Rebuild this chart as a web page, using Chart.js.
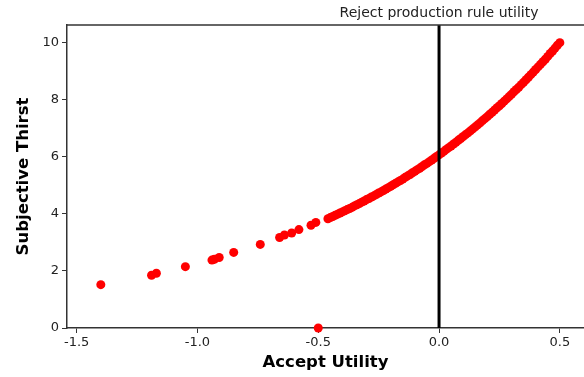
<!DOCTYPE html>
<html>
<head>
<meta charset="utf-8">
<script src="https://cdn.jsdelivr.net/npm/chart.js@4.4.1/dist/chart.umd.min.js"></script>
<style>
    html, body { margin: 0; padding: 0; background: #fff; }
    #wrap { width: 584px; height: 377px; }
</style>
</head>
<body>
<div id="wrap"><canvas id="chart" width="584" height="377"></canvas></div>
<script>
// Accept utility values (x)
const acceptUtility = [
    -1.40, -1.19, -1.17, -1.05, -0.94, -0.93, -0.91, -0.85, -0.74, -0.66, -0.64, -0.61, -0.58, -0.53, -0.51,
    -0.46, -0.45, -0.44, -0.43, -0.42, -0.41, -0.40, -0.39, -0.38, -0.37, -0.36, -0.35, -0.34, -0.33, -0.32,
    -0.31, -0.30, -0.29, -0.28, -0.27, -0.26, -0.25, -0.24, -0.23, -0.22, -0.21, -0.20, -0.19, -0.18, -0.17,
    -0.16, -0.15, -0.14, -0.13, -0.12, -0.11, -0.10, -0.09, -0.08, -0.07, -0.06, -0.05, -0.04, -0.03, -0.02,
    -0.01, 0.00, 0.01, 0.02, 0.03, 0.04, 0.05, 0.06, 0.07, 0.08, 0.09, 0.10, 0.11, 0.12, 0.13,
    0.14, 0.15, 0.16, 0.17, 0.18, 0.19, 0.20, 0.21, 0.22, 0.23, 0.24, 0.25, 0.26, 0.27, 0.28,
    0.29, 0.30, 0.31, 0.32, 0.33, 0.34, 0.35, 0.36, 0.37, 0.38, 0.39, 0.40, 0.41, 0.42, 0.43,
    0.44, 0.45, 0.46, 0.47, 0.48, 0.49, 0.50,
    -0.50
];

// Subjective thirst values (y), same order
const subjectiveThirst = [
    1.52, 1.85, 1.92, 2.15, 2.38, 2.41, 2.47, 2.65, 2.93, 3.17, 3.26, 3.33, 3.45, 3.60, 3.70,
    3.83, 3.87, 3.91, 3.95, 3.99, 4.03, 4.07, 4.11, 4.15, 4.19, 4.23, 4.28, 4.32, 4.36, 4.41,
    4.45, 4.50, 4.54, 4.59, 4.63, 4.68, 4.73, 4.77, 4.82, 4.87, 4.92, 4.97, 5.02, 5.07, 5.12,
    5.17, 5.22, 5.28, 5.33, 5.38, 5.44, 5.49, 5.55, 5.60, 5.66, 5.72, 5.77, 5.83, 5.89, 5.95,
    6.01, 6.07, 6.13, 6.19, 6.26, 6.32, 6.38, 6.45, 6.51, 6.58, 6.64, 6.71, 6.78, 6.84, 6.91,
    6.98, 7.05, 7.12, 7.19, 7.27, 7.34, 7.41, 7.49, 7.56, 7.64, 7.72, 7.79, 7.87, 7.95, 8.03,
    8.11, 8.19, 8.28, 8.36, 8.44, 8.53, 8.61, 8.70, 8.79, 8.88, 8.97, 9.06, 9.15, 9.24, 9.33,
    9.42, 9.52, 9.62, 9.71, 9.81, 9.91, 10.00,
    0.00
];

// Reject production rule utility (vertical reference line)
const rejectUtility = 0.0;
const rejectLabel = 'Reject production rule utility';

const xTicks = [-1.5, -1.0, -0.5, 0.0, 0.5];
const yTicks = [0, 2, 4, 6, 8, 10];
const xRange = [-1.54, 0.60];
const yRange = [0, 10.62];

const points = acceptUtility.map((x, i) => ({ x: x, y: subjectiveThirst[i] }));
const refLine = [{ x: rejectUtility, y: yRange[0] }, { x: rejectUtility, y: yRange[1] }];

const FONT = "'DejaVu Sans', Verdana, sans-serif";

// top frame line + label over the reference line
const framePlugin = {
    id: 'frame',
    afterDraw(chart) {
        const ctx = chart.ctx;
        const area = chart.chartArea;
        ctx.save();
        ctx.strokeStyle = '#333';
        ctx.lineWidth = 1.5;
        ctx.beginPath();
        ctx.moveTo(area.left, area.top);
        ctx.lineTo(area.right, area.top);
        ctx.stroke();

        const px = chart.scales.x.getPixelForValue(rejectUtility);
        ctx.fillStyle = '#222';
        ctx.font = '14px ' + FONT;
        ctx.textAlign = 'center';
        ctx.textBaseline = 'middle';
        ctx.fillText(rejectLabel, px, area.top - 12);
        ctx.restore();
    }
};

new Chart(document.getElementById('chart').getContext('2d'), {
    type: 'scatter',
    data: {
        datasets: [
            {
                label: 'Reject',
                data: refLine,
                showLine: true,
                borderColor: '#000',
                borderWidth: 3,
                pointRadius: 0,
                order: 0
            },
            {
                label: 'Thirst',
                data: points,
                backgroundColor: '#ff0000',
                borderColor: '#ff0000',
                pointRadius: 4.5,
                borderWidth: 0,
                order: 1
            }
        ]
    },
    options: {
        responsive: false,
        animation: false,
        clip: false,
        layout: { autoPadding: false, padding: { top: 25, right: 0, left: 0, bottom: 0 } },
        plugins: {
            legend: { display: false },
            tooltip: { enabled: false }
        },
        scales: {
            x: {
                type: 'linear',
                min: xRange[0],
                max: xRange[1],
                afterBuildTicks: (axis) => { axis.ticks = xTicks.map(v => ({ value: v })); },
                afterFit: (axis) => {
                    axis.height = 49;
                    axis.paddingLeft = 0;
                    axis.paddingRight = 0;
                },
                ticks: {
                    color: '#222',
                    font: { family: FONT, size: 13 },
                    padding: 2,
                    maxRotation: 0,
                    callback: (v) => Number(v).toFixed(1)
                },
                grid: { drawOnChartArea: false, drawTicks: true, tickLength: 5, color: '#333' },
                border: { display: true, color: '#333', width: 1.5 },
                title: {
                    display: true,
                    text: 'Accept Utility',
                    color: '#000',
                    font: { family: FONT, size: 16.5, weight: 'bold' },
                    padding: { top: 0, bottom: 4 }
                }
            },
            y: {
                type: 'linear',
                min: yRange[0],
                max: yRange[1],
                afterBuildTicks: (axis) => { axis.ticks = yTicks.map(v => ({ value: v })); },
                afterFit: (axis) => {
                    axis.width = 67;
                    axis.paddingTop = 0;
                    axis.paddingBottom = 0;
                },
                ticks: {
                    color: '#222',
                    font: { family: FONT, size: 13 },
                    padding: 3
                },
                grid: { drawOnChartArea: false, drawTicks: true, tickLength: 5, color: '#333' },
                border: { display: true, color: '#333', width: 1.5 },
                title: {
                    display: true,
                    text: 'Subjective Thirst',
                    color: '#000',
                    font: { family: FONT, size: 16.5, weight: 'bold' },
                    padding: { top: 14, bottom: 0 }
                }
            }
        }
    },
    plugins: [framePlugin]
});
</script>
</body>
</html>
